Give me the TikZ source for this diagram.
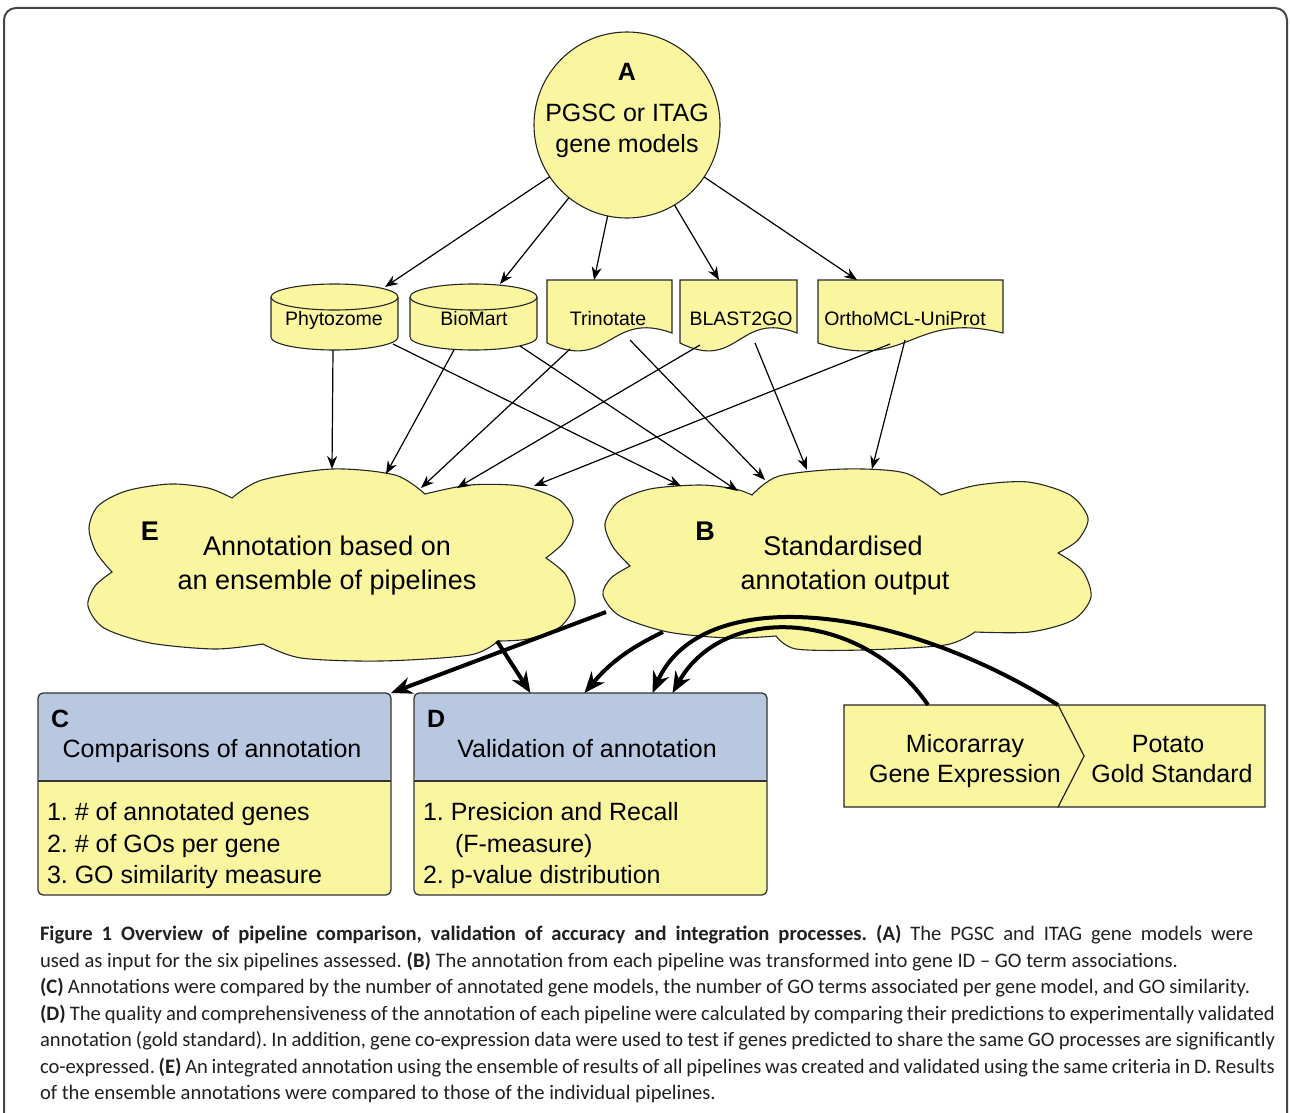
\documentclass[tikz,border=0pt]{standalone}
\usepackage{fontspec}
\setmainfont{Liberation Sans}
\newfontfamily\capfont{Carlito}
\usetikzlibrary{arrows.meta,calc}
\definecolor{fillY}{RGB}{250,246,160}
\definecolor{hdrB}{RGB}{184,200,225}
\definecolor{frameG}{RGB}{70,70,70}
\definecolor{capC}{RGB}{35,31,32}
\newcommand{\fsz}[2]{\fontsize{#1}{#2}\selectfont}
\frenchspacing
\begin{document}
\frenchspacing
\begin{tikzpicture}[x=1pt,y=1pt,
  shp/.style={fill=fillY, draw=black!85, line width=1.1pt},
  thinarr/.style={line width=1.2pt, -{Stealth[length=13pt,width=10pt]}},
  thickarr/.style={line width=4pt, -{Stealth[length=21pt,width=17pt]}},
  lbl/.style={inner sep=0pt, outer sep=0pt, anchor=base},
  lblw/.style={inner sep=0pt, outer sep=0pt, anchor=base west},
  ptxt/.style={lbl, font=\fsz{19.5}{22}},
  big/.style={lbl, font=\fsz{25}{30}},
  bigw/.style={lblw, font=\fsz{25}{30}},
  cld/.style={lbl, font=\fsz{27}{32}},
  capl/.style={lblw, font=\capfont\fsz{20.6}{26}, text=capC},
  boxnode/.style={draw=black!80, line width=1.3pt, rounded corners=5pt, fill=fillY,
    minimum width=353pt, minimum height=202pt, inner sep=0pt, outer sep=0pt,
    path picture={\fill[hdrB] (path picture bounding box.north west) rectangle ([yshift=-88pt]path picture bounding box.north east);
      \draw[black!80, line width=1.3pt] ([yshift=-88pt]path picture bounding box.north west) -- ([yshift=-88pt]path picture bounding box.north east);}}
]
\useasboundingbox (0,0) rectangle (1290,-1113);
\begin{scope}
\clip (0,0) rectangle (1290,-1113);
\draw[frameG, line width=2pt, rounded corners=12pt] (4,-8) rectangle (1287,-1160);
\end{scope}

% ---------- A ----------
\node[shp, circle, minimum size=186pt, inner sep=0pt, outer sep=0pt] (A) at (627,-125) {};
\node[big, font=\fsz{25}{30}\bfseries] (Alab) at (627,-81) {A};
\node[big] (At1) at (627,-122) {PGSC or ITAG};
\node[big] (At2) at (627,-153) {gene models};

% ---------- pipelines ----------
\path[shp] (271,-297) -- (271,-337) arc[start angle=180,end angle=360,x radius=63.5pt,y radius=13pt] -- (398,-297) arc[start angle=0,end angle=180,x radius=63.5pt,y radius=13pt] -- cycle;
\draw[black!85, line width=1.1pt] (271,-297) arc[start angle=180,end angle=360,x radius=63.5pt,y radius=13pt];
\path[shp] (410,-297) -- (410,-337) arc[start angle=180,end angle=360,x radius=63.5pt,y radius=13pt] -- (537,-297) arc[start angle=0,end angle=180,x radius=63.5pt,y radius=13pt] -- cycle;
\draw[black!85, line width=1.1pt] (410,-297) arc[start angle=180,end angle=360,x radius=63.5pt,y radius=13pt];
\path[shp] (547,-280) -- (672,-280) -- (672,-333) .. controls (609.5,-310) and (609.5,-372) .. (547,-343) -- cycle;
\path[shp] (680,-280) -- (797,-280) -- (797,-333) .. controls (738.5,-310) and (738.5,-372) .. (680,-343) -- cycle;
\path[shp] (818,-280) -- (1003,-280) -- (1003,-333) .. controls (910.5,-310) and (910.5,-372) .. (818,-343) -- cycle;

\node[ptxt] (phy) at (334,-325) {Phytozome};
\node[ptxt] (bio) at (474,-325) {BioMart};
\node[ptxt] (tri) at (608,-325) {Trinotate};
\node[ptxt] (bla) at (741,-325) {BLAST2GO};
\node[ptxt] (ort) at (905,-325) {OrthoMCL-UniProt};

\coordinate (phyT) at (385,-287);
\coordinate (bioT) at (500,-284);
\coordinate (triT) at (594,-280);
\coordinate (blaT) at (719,-280);
\coordinate (ortT) at (857,-280);
\foreach \t in {phyT,bioT,triT,blaT,ortT} \draw[thinarr] (A) -- (\t);

% ---------- clouds ----------
\path[shp] plot[smooth] coordinates {(112,-572) (96,-552) (89,-528) (98,-506) (126,-491) (170,-484) (208,-488) (232,-498)}
 -- plot[smooth] coordinates {(232,-498) (262,-480) (332,-469) (395,-475) (425,-494)}
 -- plot[smooth] coordinates {(425,-494) (470,-485) (520,-486) (558,-499) (573,-520) (564,-542) (546,-558)}
 -- plot[smooth] coordinates {(546,-558) (566,-575) (575,-603) (560,-627) (528,-639) (498,-641)}
 -- plot[smooth] coordinates {(498,-641) (470,-655) (381,-661) (301,-658) (263,-644)}
 -- plot[smooth] coordinates {(263,-644) (215,-649) (150,-643) (104,-628) (88,-606) (95,-586) (112,-572)}
 -- cycle;
\path[shp] plot[smooth] coordinates {(630,-566) (613,-547) (605,-524) (618,-502) (650,-489) (700,-485) (735,-489) (752,-495)}
 -- plot[smooth] coordinates {(752,-495) (779,-476) (845,-469) (905,-473) (941,-495)}
 -- plot[smooth] coordinates {(941,-495) (978,-485) (1028,-482) (1070,-495) (1088,-518) (1078,-540) (1058,-553)}
 -- plot[smooth] coordinates {(1058,-553) (1082,-570) (1091,-597) (1073,-620) (1030,-632) (975,-632)}
 -- plot[smooth] coordinates {(975,-632) (945,-645) (862,-650) (796,-649) (776,-636)}
 -- plot[smooth] coordinates {(776,-636) (729,-638) (668,-632) (620,-616) (603,-595) (611,-578) (630,-566)}
 -- cycle;

\node[cld, font=\fsz{27}{32}\bfseries] (Elab) at (150,-540) {E};
\node[cld] (E) at (327,-555) {Annotation based on};
\node[cld] (E2) at (327,-589) {an ensemble of pipelines};
\node[cld, font=\fsz{27}{32}\bfseries] (Blab) at (705,-540) {B};
\node[cld] (B) at (843,-555) {Standardised};
\node[cld] (B2) at (845,-589) {annotation output};

\coordinate (phyB1) at (333,-350);
\coordinate (phyB2) at (393,-344);
\coordinate (bioB1) at (454,-350);
\coordinate (bioB2) at (520,-346);
\coordinate (triB1) at (570,-349);
\coordinate (triB2) at (630,-340);
\coordinate (blaB1) at (700,-345);
\coordinate (blaB2) at (755,-343);
\coordinate (ortB1) at (890,-344);
\coordinate (ortB2) at (905,-340);
\coordinate (Ein1) at (332,-469);
\coordinate (Ein2) at (386,-474);
\coordinate (Ein3) at (421,-488);
\coordinate (Ein4) at (457,-488);
\coordinate (Ein5) at (534,-486);
\coordinate (Bin1) at (681,-486);
\coordinate (Bin2) at (738,-491);
\coordinate (Bin3) at (765,-480);
\coordinate (Bin4) at (807,-470);
\coordinate (Bin5) at (872,-469);
\draw[thinarr] (phyB1) -- (Ein1);
\draw[thinarr] (bioB1) -- (Ein2);
\draw[thinarr] (triB1) -- (Ein3);
\draw[thinarr] (blaB1) -- (Ein4);
\draw[thinarr] (ortB1) -- (Ein5);
\draw[thinarr] (phyB2) -- (Bin1);
\draw[thinarr] (bioB2) -- (Bin2);
\draw[thinarr] (triB2) -- (Bin3);
\draw[thinarr] (blaB2) -- (Bin4);
\draw[thinarr] (ortB2) -- (Bin5);

% ---------- C and D ----------
\node[boxnode] (C) at (214.5,-794) {};
\node[boxnode] (D) at (590.5,-794) {};
\node[bigw, font=\fsz{25}{30}\bfseries] (Clab) at (51,-727) {C};
\node[big] (Ct) at (212,-757) {Comparisons of annotation};
\node[bigw] (C1) at (47,-820) {1. \# of annotated genes};
\node[bigw] (C2) at (47,-852) {2. \# of GOs per gene};
\node[bigw] (C3) at (47,-883) {3. GO similarity measure};
\node[bigw, font=\fsz{25}{30}\bfseries] (Dlab) at (427,-727) {D};
\node[big] (Dt) at (587,-757) {Validation of annotation};
\node[bigw] (D1) at (423,-820) {1. Presicion and Recall};
\node[bigw] (D2) at (455,-852) {(F-measure)};
\node[bigw] (D3) at (423,-883) {2. p-value distribution};

% ---------- Micorarray / Potato ----------
\path[shp] (1058,-705) -- (1265,-705) -- (1265,-807) -- (1058,-807) -- (1084,-756) -- cycle;
\path[shp] (844,-705) -- (1058,-705) -- (1084,-756) -- (1058,-807) -- (844,-807) -- cycle;
\node[big] (M) at (965,-752) {Micorarray};
\node[big] (M2) at (965,-782) {Gene Expression};
\node[big] (P) at (1168,-752) {Potato};
\node[big] (P2) at (1172,-782) {Gold Standard};
\coordinate (Mtop) at (928,-705);
\coordinate (Ptop) at (1058,-705);

% ---------- thick connectors ----------
\coordinate (Bout1) at (606,-612);
\coordinate (Bout2) at (663,-632);
\coordinate (Eout) at (497,-641);
\draw[thickarr] (Bout1) -- (C.north east);
\draw[thickarr] (Eout) -- ([xshift=-60pt]D.north);
\draw[thickarr] (Bout2) to[bend right=12] ([xshift=-6pt]D.north);
\draw[thickarr] (Ptop) .. controls (890,-600) and (700,-585) .. ([xshift=62pt]D.north);
\draw[thickarr] (Mtop) .. controls (865,-612) and (725,-600) .. ([xshift=82pt]D.north);

% ---------- caption ----------
\node[capl] (cap1) at (40,-940) {\makebox[1213pt][s]{\textbf{Figure 1 Overview of pipeline comparison, validation of accuracy and integration processes. (A)} The PGSC and ITAG gene models were}};
\node[capl] (cap2) at (40,-967) {used as input for the six pipelines assessed. \textbf{(B)} The annotation from each pipeline was transformed into gene ID – GO term associations.};
\node[capl] (cap3) at (40,-993) {\makebox[1210pt][s]{\textbf{(C)} Annotations were compared by the number of annotated gene models, the number of GO terms associated per gene model, and GO similarity.}};
\node[capl] (cap4) at (40,-1020) {\makebox[1235pt][s]{\textbf{(D)} The quality and comprehensiveness of the annotation of each pipeline were calculated by comparing their predictions to experimentally validated}};
\node[capl] (cap5) at (40,-1046) {\makebox[1235pt][s]{annotation (gold standard). In addition, gene co-expression data were used to test if genes predicted to share the same GO processes are significantly}};
\node[capl] (cap6) at (40,-1073) {\makebox[1235pt][s]{co-expressed. \textbf{(E)} An integrated annotation using the ensemble of results of all pipelines was created and validated using the same criteria in D. Results}};
\node[capl] (cap7) at (40,-1099) {of the ensemble annotations were compared to those of the individual pipelines.};
\end{tikzpicture}
\end{document}
